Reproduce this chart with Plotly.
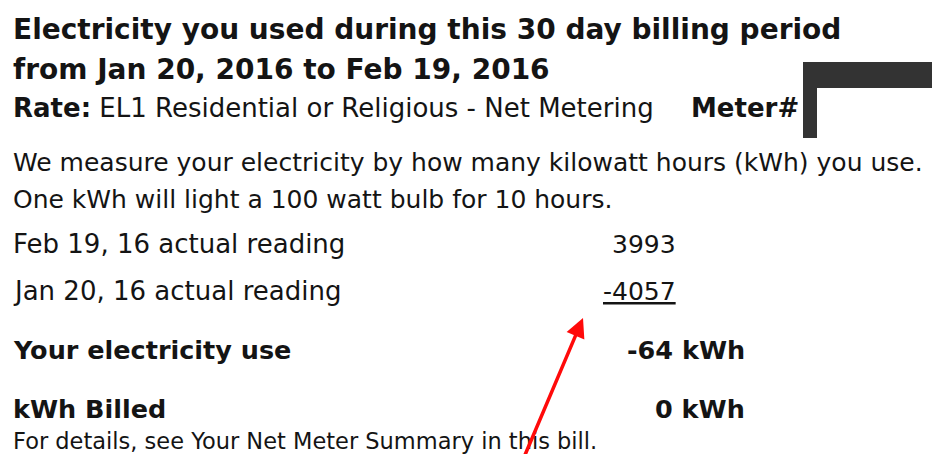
import plotly.graph_objects as go

# ---- data ----
title_lines = ["Electricity you used during this 30 day billing period",
               "from Jan 20, 2016 to Feb 19, 2016"]
rate_label = "Rate:"
rate_text = "EL1 Residential or Religious - Net Metering"
meter_label = "Meter#"
intro_lines = ["We measure your electricity by how many kilowatt hours (kWh) you use.",
               "One kWh will light a 100 watt bulb for 10 hours."]
reading_labels = ["Feb 19, 16 actual reading", "Jan 20, 16 actual reading"]
reading_values = [3993, 4057]
summary_labels = ["Your electricity use", "kWh Billed"]
summary_values = [-64, 0]
summary_unit = "kWh"
footnote = "For details, see Your Net Meter Summary in this bill."

W, H = 940, 454
OFF = 8  # page body margin offset
FONT = "DejaVu Sans, Liberation Sans, Arial, sans-serif"
INK = "#141414"

fig = go.Figure()
fig.add_trace(go.Scatter(x=[OFF, W + OFF], y=[OFF, H + OFF], mode="markers",
                         marker=dict(opacity=0), hoverinfo="skip", showlegend=False))

ann = []
def txt(x, y, s, size, bold=False, anchor="left", color=INK):
    ann.append(dict(x=x, y=y, xref="x", yref="y", text=(f"<b>{s}</b>" if bold else s),
                    showarrow=False, xanchor=anchor, yanchor="middle", borderpad=0,
                    font=dict(family=FONT, size=size, color=color)))

txt(12, 29, title_lines[0], 28, bold=True)
txt(12, 69, title_lines[1], 28, bold=True)
txt(12, 108, f"<b>{rate_label}</b> {rate_text}", 26)
txt(800, 108, meter_label, 26, bold=True, anchor="right")
txt(12, 162, intro_lines[0], 25)
txt(12, 199, intro_lines[1], 25)

row_y = [244, 291]
for i, (lab, val) in enumerate(zip(reading_labels, reading_values)):
    txt(12, row_y[i], lab, 26)
    s = f"{val}" if i == 0 else f"<u>-{val}</u>"
    txt(677, row_y[i], s, 25, anchor="right")

sum_y = [350, 409]
for i, (lab, val) in enumerate(zip(summary_labels, summary_values)):
    txt(12, sum_y[i], lab, 25.5, bold=True)
    txt(746, sum_y[i], f"{val} {summary_unit}", 25.5, bold=True, anchor="right")

txt(12, 441, footnote, 22.5)

# red arrow
ann.append(dict(x=583, y=318, ax=522, ay=462, xref="x", yref="y", axref="x", ayref="y",
                showarrow=True, arrowhead=2, arrowsize=1.1, arrowwidth=3.5,
                arrowcolor="#ff0a0a", text=""))

fig.update_layout(
    width=W, height=H, margin=dict(l=0, r=0, t=0, b=0),
    paper_bgcolor="white", plot_bgcolor="white",
    xaxis=dict(range=[OFF, W + OFF], visible=False, fixedrange=True),
    yaxis=dict(range=[H + OFF, OFF], visible=False, fixedrange=True),
    annotations=ann,
    shapes=[
        dict(type="rect", xref="x", yref="y", x0=803, x1=950, y0=62, y1=88,
             fillcolor="#333333", line=dict(width=0)),
        dict(type="rect", xref="x", yref="y", x0=803, x1=817, y0=80, y1=138,
             fillcolor="#333333", line=dict(width=0)),
    ],
)
fig.write_html("out.html")
